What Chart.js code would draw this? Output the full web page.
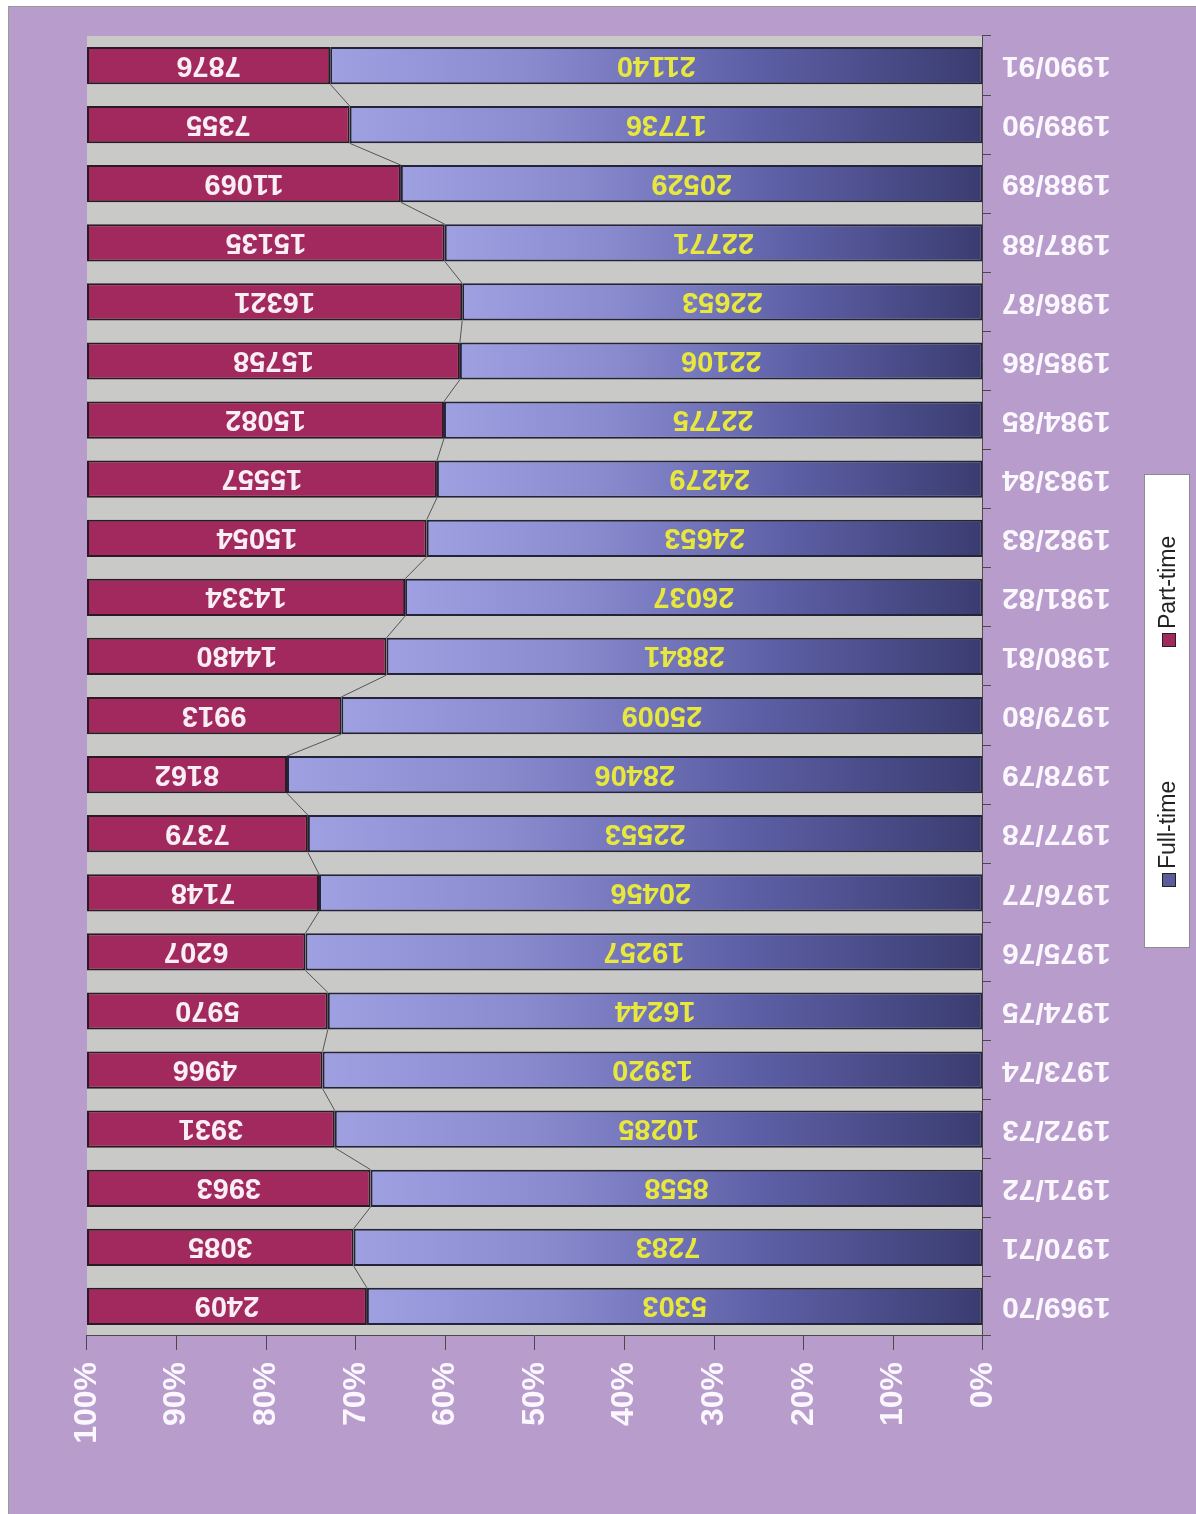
<!DOCTYPE html>
<html>
<head>
<meta charset="utf-8">
<script src="https://cdn.jsdelivr.net/npm/chart.js@4/dist/chart.umd.min.js"></script>
<style>
  html, body { margin: 0; padding: 0; background: #fff; overflow: hidden; }
  #frame {
    position: absolute; left: 8px; top: 6px;
    width: 1187px; height: 1507px;
    border-left: 1px solid #9a9a9a; border-top: 1px solid #9a9a9a;
    background: #b89ccb;
  }
  /* the picture is the chart turned upside down */
  #chart { position: absolute; left: 0; top: 0; transform: rotate(180deg); }
</style>
</head>
<body>
<div id="frame"><canvas id="chart" width="1187" height="1507"></canvas></div>
<script>
const categories = [
  "1969/70", "1970/71", "1971/72", "1972/73", "1973/74", "1974/75",
  "1975/76", "1976/77", "1977/78", "1978/79", "1979/80", "1980/81",
  "1981/82", "1982/83", "1983/84", "1984/85", "1985/86", "1986/87",
  "1987/88", "1988/89", "1989/90", "1990/91"
];
const fullTime = [
  5303, 7283, 8558, 10285, 13920, 16244, 19257, 20456, 22553, 28406, 25009,
  28841, 26037, 24653, 24279, 22775, 22106, 22653, 22771, 20529, 17736, 21140
];
const partTime = [
  2409, 3085, 3963, 3931, 4966, 5970, 6207, 7148, 7379, 8162, 9913,
  14480, 14334, 15054, 15557, 15082, 15758, 16321, 15135, 11069, 7355, 7876
];
const percentTicks = ["0%", "10%", "20%", "30%", "40%", "50%", "60%", "70%", "80%", "90%", "100%"];
const seriesNames = ["Full-time", "Part-time"];

const FONT = "'Liberation Sans', Arial, sans-serif";
const ptColor = "#a2295d";

// 100% stacked shares
const ftPct = fullTime.map((v, i) => (v / (v + partTime[i])) * 100);
const ptPct = partTime.map((v, i) => (v / (fullTime[i] + v)) * 100);
const rawValues = [fullTime, partTime];

function ftGradient(ctx) {
  const chart = ctx.chart;
  if (!chart.chartArea || ctx.dataIndex === undefined) return "#6e70b8";
  const xs = chart.scales.x;
  const x0 = xs.getPixelForValue(0);
  const x1 = xs.getPixelForValue(ftPct[ctx.dataIndex]);
  const g = chart.ctx.createLinearGradient(x0, 0, x1, 0);
  g.addColorStop(0, "#3a3c70");
  g.addColorStop(0.35, "#5d5fa6");
  g.addColorStop(0.7, "#8a8bcf");
  g.addColorStop(1, "#9fa0e2");
  return g;
}

const chartBits = {
  id: "chartBits",
  beforeDraw(chart) {
    const a = chart.chartArea;
    const c = chart.ctx;
    c.save();
    c.fillStyle = "#c9c9c7";
    c.fillRect(a.left, a.top, a.right - a.left, a.bottom - a.top);
    c.restore();
  },
  afterDatasetsDraw(chart) {
    const c = chart.ctx;
    const ft = chart.getDatasetMeta(0).data;
    // series lines between the bars
    c.save();
    c.strokeStyle = "#555";
    c.lineWidth = 1;
    for (let i = 0; i < ft.length - 1; i++) {
      const a = ft[i], b = ft[i + 1];
      c.beginPath();
      c.moveTo(a.x, a.y + a.height / 2);
      c.lineTo(b.x, b.y - b.height / 2);
      c.stroke();
    }
    // value labels
    c.font = "bold 29px " + FONT;
    c.textAlign = "center";
    c.textBaseline = "middle";
    [0, 1].forEach((d) => {
      c.fillStyle = d === 0 ? "#e8e83c" : "#f8eef4";
      chart.getDatasetMeta(d).data.forEach((el, i) => {
        c.fillText(String(rawValues[d][i]), (el.x + el.base) / 2, el.y + 1);
      });
    });
    c.restore();
  },
  afterDraw(chart) {
    const c = chart.ctx;
    const xs = chart.scales.x;
    c.save();
    // percent labels, turned a quarter
    c.font = "bold 32px " + FONT;
    c.fillStyle = "#fbf7ff";
    c.textAlign = "right";
    c.textBaseline = "middle";
    percentTicks.forEach((t, i) => {
      c.save();
      c.translate(xs.getPixelForValue(i * 10), 152);
      c.rotate(Math.PI / 2);
      c.fillText(t, 0, 0);
      c.restore();
    });
    // legend box
    c.fillStyle = "#ffffff";
    c.fillRect(6, 566, 45, 473);
    c.strokeStyle = "#8c8c8c";
    c.lineWidth = 1;
    c.strokeRect(6.5, 566.5, 45, 473);
    const items = [
      { y: 634, fill: "#5a5c9c" },
      { y: 874, fill: ptColor },
    ];
    c.font = "23px " + FONT;
    c.textAlign = "left";
    items.forEach((it, i) => {
      c.fillStyle = it.fill;
      c.fillRect(20, it.y - 7, 14, 14);
      c.strokeStyle = "#222";
      c.strokeRect(20.5, it.y - 6.5, 13, 13);
      c.save();
      c.translate(27, it.y + 11);
      c.rotate(Math.PI / 2);
      c.fillStyle = "#222";
      c.fillText(seriesNames[i], 0, 0);
      c.restore();
    });
    c.restore();
  },
};

new Chart(document.getElementById("chart").getContext("2d"), {
  type: "bar",
  data: {
    labels: categories,
    datasets: [
      {
        label: seriesNames[0],
        data: ftPct,
        backgroundColor: ftGradient,
        borderColor: "#23233a",
        borderWidth: 2,
        borderSkipped: false,
      },
      {
        label: seriesNames[1],
        data: ptPct,
        backgroundColor: ptColor,
        borderColor: "#2a1a24",
        borderWidth: 2,
        borderSkipped: false,
      },
    ],
  },
  options: {
    indexAxis: "y",
    responsive: false,
    animation: false,
    devicePixelRatio: 1,
    layout: { padding: { left: 0, top: 0, right: 78, bottom: 29 } },
    datasets: { bar: { categoryPercentage: 1.0, barPercentage: 0.63 } },
    plugins: { legend: { display: false }, tooltip: { enabled: false } },
    scales: {
      x: {
        position: "top",
        stacked: true,
        min: 0,
        max: 100,
        ticks: { display: false, stepSize: 10 },
        grid: { drawOnChartArea: false, drawTicks: true, tickLength: 14, color: "#4a4a4a" },
        border: { display: true, color: "#4a4a4a", width: 1 },
        afterFit: (s) => { s.height = 178; },
      },
      y: {
        stacked: true,
        grid: { offset: true, drawOnChartArea: false, drawTicks: true, tickLength: 8, color: "#4a4a4a" },
        border: { display: true, color: "#4a4a4a", width: 1 },
        ticks: {
          color: "#fbf7ff",
          padding: 11,
          font: { family: FONT, size: 30, weight: "bold" },
        },
        afterFit: (s) => { s.width = 213; },
      },
    },
  },
  plugins: [chartBits],
});
</script>
</body>
</html>
